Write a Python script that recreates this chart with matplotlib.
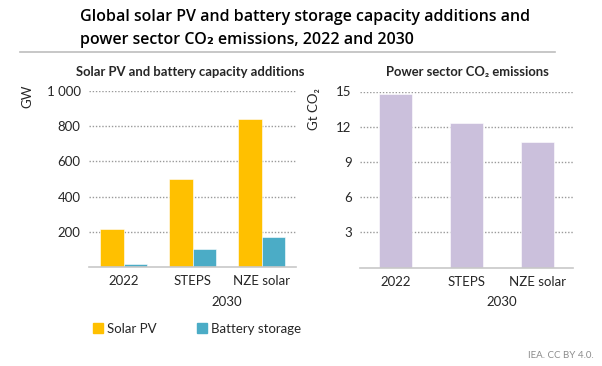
"""
    Global solar PV and battery storage capacity additions
    and power sector CO2 emissions, 2022 and 2030
"""
import matplotlib
matplotlib.use("Agg")
import matplotlib.pyplot as plt
from matplotlib.patches import Patch
from matplotlib.transforms import blended_transform_factory
import numpy as np

# Data
categories = ["2022", "STEPS", "NZE solar"]
solar_pv = [218, 498, 840]
battery_storage = [17, 100, 172]
co2_emissions = [14.8, 12.3, 10.7]

gw_ticks = [200, 400, 600, 800, 1000]
gw_tick_labels = ["200", "400", "600", "800", "1 000"]
co2_ticks = [3, 6, 9, 12, 15]

SOLAR = "#FFC000"
BATTERY = "#4BACC6"
PURPLE = "#CBC0DC"
GRID = "#9a9a9a"
TEXT = "#262626"

plt.rcParams['font.family'] = ['Lato', 'DejaVu Sans']

W, H = 602, 366
fig = plt.figure(figsize=(W / 100, H / 100), dpi=100)


def box(x0, y0, x1, y1):
    # pixel box (top-left origin) -> figure fraction
    return [x0 / W, 1 - y1 / H, (x1 - x0) / W, (y1 - y0) / H]


# Title + rule
fig.text(80 / W, 1 - 17 / H, "Global solar PV and battery storage capacity additions and",
         fontsize=11.5, color="black", va="center", ha="left", family=["Open Sans", "DejaVu Sans"],
         fontweight="semibold")
fig.text(80 / W, 1 - 40 / H, "power sector CO\u2082 emissions, 2022 and 2030",
         fontsize=11.5, color="black", va="center", ha="left", family=["Open Sans", "DejaVu Sans"],
         fontweight="semibold")
fig.add_artist(plt.Line2D([20 / W, 555 / W], [1 - 52 / H, 1 - 52 / H], color="#bdbdbd", lw=1.2))


def style(ax):
    ax.set_axisbelow(True)
    ax.yaxis.grid(True, linestyle=(0, (1, 1.3)), color=GRID, lw=1)
    for s in ["top", "right", "left"]:
        ax.spines[s].set_visible(False)
    ax.spines["bottom"].set_color("#c8c8c8")
    ax.spines["bottom"].set_linewidth(1.2)
    ax.tick_params(axis="both", length=0, labelsize=9.5, colors=TEXT, pad=6)
    ax.set_xlim(-0.5, 2.5)
    ax.set_xticks(range(len(categories)))
    ax.set_xticklabels(categories)
    trans = blended_transform_factory(ax.transData, fig.transFigure)
    ax.text(1.5, 1 - 302 / H, "2030", transform=trans, ha="center", va="center",
            fontsize=9.5, color=TEXT)


# Left panel
ax1 = fig.add_axes(box(89, 91, 296, 267))
x = np.arange(len(categories))
bw = 0.335
ax1.bar(x - bw / 2, solar_pv, bw, color=SOLAR, edgecolor="white", lw=0.4, label="Solar PV")
ax1.bar(x + bw / 2, battery_storage, bw, color=BATTERY, edgecolor="white", lw=0.4, label="Battery storage")
ax1.set_ylim(0, 1000)
ax1.set_yticks(gw_ticks)
ax1.set_yticklabels(gw_tick_labels)
style(ax1)
ax1.set_ylabel("GW", fontsize=9.5, color=TEXT)
ax1.yaxis.set_label_coords(-0.27, 0.97)
fig.text(190 / W, 1 - 72 / H, "Solar PV and battery capacity additions", ha="center", va="center",
         fontsize=9.4, fontweight="bold", color=TEXT)

# Right panel
ax2 = fig.add_axes(box(360, 91.5, 573, 267.5))
ax2.bar(x, co2_emissions, 0.47, color=PURPLE, edgecolor="white", lw=0.4)
ax2.set_ylim(0, 15)
ax2.set_yticks(co2_ticks)
style(ax2)
ax2.set_ylabel("Gt CO\u2082", fontsize=9.5, color=TEXT)
ax2.yaxis.set_label_coords(-0.19, 0.9)
fig.text(467 / W, 1 - 72 / H, "Power sector CO\u2082 emissions", ha="center", va="center",
         fontsize=9.4, fontweight="bold", color=TEXT)

# Legend
handles = [Patch(color=SOLAR, label="Solar PV"), Patch(color=BATTERY, label="Battery storage")]
fig.legend(handles=handles, loc="center left", bbox_to_anchor=(81 / W, 1 - 329 / H), ncol=2,
           frameon=False, fontsize=9.5, handlelength=0.8, handleheight=0.8, handletextpad=0.3,
           columnspacing=3.0, labelcolor=TEXT)

fig.text(594 / W, 1 - 355 / H, "IEA. CC BY 4.0.", ha="right", va="center", fontsize=7, color="#8c8c8c")

fig.savefig("out.png", dpi=100, facecolor="white")
